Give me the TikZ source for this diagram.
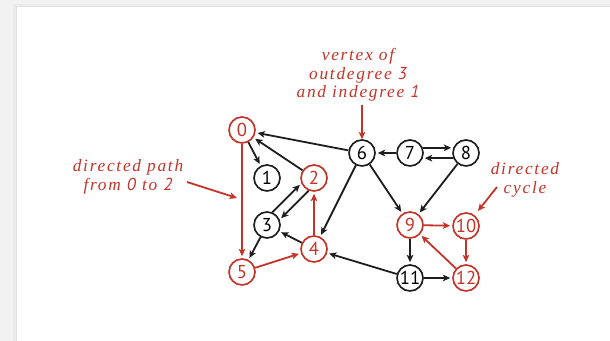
\documentclass[tikz,border=0pt]{standalone}
\usepackage{fontspec}
\setmainfont{Liberation Serif}
\newfontfamily\numfont{PT Sans}
\usetikzlibrary{arrows.meta}
\usetikzlibrary{calc}
\definecolor{pathred}{RGB}{196,52,40}
\definecolor{edgeblack}{RGB}{30,30,30}
\newcommand{\sfnum}[1]{{\numfont #1}}

\begin{document}
\begin{tikzpicture}[x=0.75pt,y=-0.75pt]
\tikzset{
    vertex/.style={
        draw=edgeblack,
        circle,
        line width=1.25pt,
        minimum size=19.5pt,
        inner sep=0pt,
        font=\numfont\fontsize{14}{15}\selectfont,
    },
    red vertex/.style={
        vertex,
        draw=pathred,
        text=pathred,
    },
    edge/.style={
        draw=edgeblack,
        line width=1.35pt,
        -{Stealth[length=5.5pt,width=5pt,inset=1.4pt]},
        shorten >=1.5pt,
    },
    red edge/.style={
        edge,
        draw=pathred,
    },
    note/.style={ % italic captions
        text=pathred,
        align=center,
        inner sep=0pt,
        font=\fontsize{13}{13.9}\selectfont\itshape\addfontfeatures{LetterSpace=10},
    },
}
% page and frame
\fill[gray!10] (0,0) rectangle (610,341);
\fill[gray!16] (13,4) rectangle (610,341);
\fill[gray!22] (15.5,6) rectangle (610,341);
\fill[white] (17,7.5) rectangle (610,341);
\useasboundingbox (0,0) rectangle (610,341);

% vertices
\node[red vertex] (n0) at (242,130) {0};
\node[vertex] (n1) at (267,178) {1};
\node[red vertex] (n2) at (314,178) {2};
\node[vertex] (n3) at (267,225) {3};
\node[red vertex] (n4) at (314,249) {4};
\node[red vertex] (n5) at (242,272) {5};
\node[vertex] (n6) at (362,153) {6};
\node[vertex] (n7) at (410,153) {7};
\node[vertex] (n8) at (466,153) {8};
\node[red vertex] (n9) at (410,225) {9};
\node[red vertex] (n10) at (466,226) {10};
\node[vertex] (n11) at (410,278) {11};
\node[red vertex] (n12) at (466,278) {12};

% edges
\draw[edge] (n0) -- (n1);
\draw[edge] (n2) -- (n0);
\draw[edge] (n6) -- (n0);
\draw[edge] (n3.67) -- (n2.203);
\draw[edge] (n2.247) -- (n3.23);
\draw[edge] (n4) -- (n3);
\draw[edge] (n3) -- (n5);
\draw[edge] (n6) -- (n4);
\draw[edge] (n6) -- (n9);
\draw[edge] (n7) -- (n6);
\draw[edge] (n7.22) -- (n8.158);
\draw[edge] (n8.-158) -- (n7.-22);
\draw[edge] (n8) -- (n9);
\draw[edge] (n9) -- (n11);
\draw[edge] (n11) -- (n12);
\draw[edge] (n11) -- (n4);

% path 0-5-4-2 and cycle 9-10-12
\draw[red edge] (n0) -- (n5);
\draw[red edge] (n5) -- (n4);
\draw[red edge] (n4) -- (n2);
\draw[red edge] (n9) -- (n10);
\draw[red edge] (n10) -- (n12);
\draw[red edge] (n12) -- (n9);

% captions
\node[note] (deg) at (358,75) {vertex of\\outdegree \sfnum{3}\\and indegree \sfnum{1}};
\node[note] (path) at (128,177) {directed path\\from \sfnum{0} to \sfnum{2}};
\node[note] (cyc) at (525,180) {directed\\cycle};

\coordinate (degtail) at (362,105);
\coordinate (pathtail) at (187,182);
\coordinate (pathhead) at (237,198);
\coordinate (cyctail) at (497,187);
\draw[red edge,shorten >=0pt] (degtail) -- (n6);
\draw[red edge,shorten >=0pt] (pathtail) -- (pathhead);
\draw[red edge,shorten >=4pt] (cyctail) -- (n10);
\end{tikzpicture}
\end{document}
